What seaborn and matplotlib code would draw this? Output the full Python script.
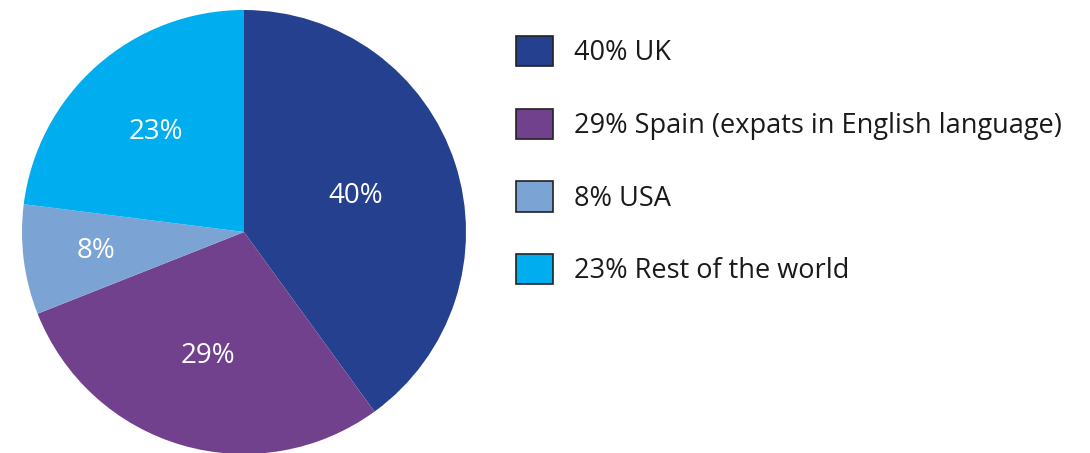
import numpy as np
import matplotlib.pyplot as plt
import seaborn as sns
from matplotlib.patches import Patch

# data
labels = ["UK", "Spain (expats in English language)", "USA", "Rest of the world"]
shares = [40, 29, 8, 23]
colors = ["#25408F", "#71418E", "#7BA4D5", "#00ADEE"]
label_dist = [0.53, 0.58, 0.67, 0.60]  # where each % label sits inside its wedge

sns.set_style("white")
plt.rcParams['font.family'] = ['Open Sans', 'DejaVu Sans']

fig = plt.figure(figsize=(10.9, 4.53), dpi=100)
W, H = 1090, 453
cx, cy, r = 244, 232, 222
ax = fig.add_axes([(cx - r) / W, (H - cy - r) / H, 2 * r / W, 2 * r / H])

wedges, _ = ax.pie(shares, colors=colors, startangle=90, counterclock=False,
                   radius=1, wedgeprops=dict(linewidth=0))
ax.set_xlim(-1, 1)
ax.set_ylim(-1, 1)
ax.set_aspect("equal")
ax.axis("off")

for w, s, d in zip(wedges, shares, label_dist):
    mid = np.deg2rad((w.theta1 + w.theta2) / 2)
    ax.text(d * np.cos(mid), d * np.sin(mid), f"{s}%", color="white",
            fontsize=20, ha="center", va="center")

handles = [Patch(facecolor=c, edgecolor="#222222", linewidth=1.2) for c in colors]
leg_labels = [f"{s}% {l}" for s, l in zip(shares, labels)]
leg = fig.legend(handles, leg_labels, loc="upper left", bbox_to_anchor=(516 / W, 1 - 36 / H),
                 frameon=False, fontsize=19.5, handlelength=1.35, handleheight=1.35,
                 handletextpad=0.78, labelspacing=1.53, borderaxespad=0, borderpad=0)
for t in leg.get_texts():
    t.set_color("#1a1a1a")

fig.savefig("out.png", dpi=100)
